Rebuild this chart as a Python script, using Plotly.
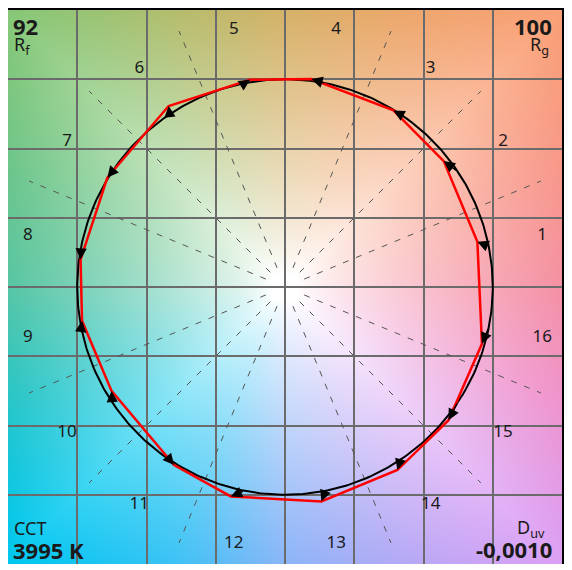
"""
TM-30 colour vector graphic (Rf / Rg) -- Plotly version.
"""

import base64
import struct
import zlib

import numpy as np
import plotly.graph_objects as go

# ── Data ─────────────────────────────────────────────────────────────────────
BINS = list(range(1, 17))
# test source vectors, normalised to the reference circle (radius 1)
TEST_X = [0.926, 0.764, 0.522, 0.127, -0.168, -0.560, -0.855, -0.984,
          -0.977, -0.835, -0.534, -0.261, 0.175, 0.541, 0.787, 0.948]
TEST_Y = [0.218, 0.606, 0.850, 1.001, 0.998, 0.871, 0.527, 0.132,
          -0.163, -0.500, -0.857, -1.008, -1.032, -0.881, -0.641, -0.273]
RF = "92"
RG = "100"
CCT = "3995 K"
DUV = "-0,0010"

# ── Design tokens ────────────────────────────────────────────────────────────
FONT = "Noto Sans, Open Sans, Arial, sans-serif"
TEXT = "#1a1a1a"
GRID = "#6b6b6b"
LIM = 4 / 3
SIZE = 556          # page body adds 8 px margin around the figure

# hue of the background along the frame, every 22.5 deg starting at +x
EDGE_RGB = [
    (245, 145, 165), (248, 152, 140), (250, 160, 118), (236, 168, 108),
    (214, 178, 105), (180, 190, 110), (135, 200, 120), (108, 198, 140),
    (88, 198, 165), (40, 198, 200), (0, 200, 240), (60, 195, 245),
    (140, 182, 248), (180, 170, 246), (220, 160, 245), (240, 148, 205),
]


def background_png(n=360):
    c = np.linspace(-LIM, LIM, n)
    u, v = np.meshgrid(c, c[::-1])
    th = np.degrees(np.arctan2(v, u)) % 360
    r = np.hypot(u, v)
    r_edge = LIM / np.maximum(np.abs(np.cos(np.radians(th))),
                              np.abs(np.sin(np.radians(th))))
    s = np.clip(r / r_edge, 0, 1)
    w = np.clip(s * 1.05 - 0.05, 0, 1) ** 0.8

    anchors = np.array(EDGE_RGB + [EDGE_RGB[0]], dtype=float)
    pos = th / 22.5
    i0 = np.floor(pos).astype(int)
    f = (pos - i0)[..., None]
    edge = anchors[i0] * (1 - f) + anchors[i0 + 1] * f
    rgb = 255 * (1 - w[..., None]) + edge * w[..., None]
    rgb = np.clip(rgb, 0, 255).astype(np.uint8)

    h, wd, _ = rgb.shape
    raw = b"".join(b"\x00" + rgb[k].tobytes() for k in range(h))

    def chunk(tag, data):
        body = tag + data
        return struct.pack(">I", len(data)) + body + struct.pack(">I", zlib.crc32(body) & 0xFFFFFFFF)

    png = (b"\x89PNG\r\n\x1a\n"
           + chunk(b"IHDR", struct.pack(">IIBBBBB", wd, h, 8, 2, 0, 0, 0))
           + chunk(b"IDAT", zlib.compress(raw, 9))
           + chunk(b"IEND", b""))
    return "data:image/png;base64," + base64.b64encode(png).decode()


fig = go.Figure()

# dashed hue-bin boundaries (the 0/90/180/270 ones sit on the grid)
for k in range(16):
    if k % 4 == 0:
        continue
    a = np.radians(k * 22.5)
    fig.add_trace(go.Scatter(
        x=[0.1 * np.cos(a), LIM * np.cos(a)], y=[0.1 * np.sin(a), LIM * np.sin(a)],
        mode="lines", line=dict(color="#555555", width=1, dash="6px,8px"),
        hoverinfo="skip", showlegend=False,
    ))

# reference circle
t = np.linspace(0, 2 * np.pi, 361)
fig.add_trace(go.Scatter(
    x=np.cos(t), y=np.sin(t), mode="lines",
    line=dict(color="black", width=2), hoverinfo="skip", showlegend=False,
))

# test polygon
fig.add_trace(go.Scatter(
    x=TEST_X + TEST_X[:1], y=TEST_Y + TEST_Y[:1], mode="lines",
    line=dict(color="#ff0000", width=2.5), showlegend=False,
))

# bin numbers
ang = np.radians((np.array(BINS) - 0.5) * 22.5)
fig.add_trace(go.Scatter(
    x=1.262 * np.cos(ang), y=1.262 * np.sin(ang), mode="text",
    text=[str(b) for b in BINS], textposition="middle center",
    textfont=dict(family=FONT, size=17, color=TEXT),
    hoverinfo="skip", showlegend=False,
))

# arrows reference -> test
for a, tx, ty in zip(ang, TEST_X, TEST_Y):
    fig.add_annotation(
        x=tx, y=ty, ax=np.cos(a), ay=np.sin(a),
        xref="x", yref="y", axref="x", ayref="y",
        text="", showarrow=True, arrowhead=2, arrowsize=1.5,
        arrowwidth=1.5, arrowcolor="black", standoff=0,
    )


def fx(p):
    return p / SIZE


def fy(p):
    return 1 - p / SIZE


# (text, x px, top px, anchor, size) in figure pixels
corner = [
    (f"<b>{RF}</b>", 3, -1, "left", 22),
    ("R<sub>f</sub>", 4, 20, "left", 18),
    (f"<b>{RG}</b>", 548, -1, "right", 22),
    ("R<sub>g</sub>", 545, 20, "right", 18),
    ("CCT", 4, 506, "left", 18),
    (f"<b>{CCT}</b>", 3, 525, "left", 22),
    ("D<sub>uv</sub>", 541, 505, "right", 18),
    (f"<b>{DUV}</b>", 548, 524, "right", 22),
]
for txt, x, y, anchor, size in corner:
    fig.add_annotation(
        x=fx(x), y=fy(y), xref="paper", yref="paper",
        xanchor=anchor, yanchor="top", text=txt, showarrow=False,
        font=dict(family=FONT, size=size, color=TEXT),
    )

ticks = [k / 3 for k in range(-4, 5)]
axis = dict(
    range=[-LIM, LIM], tickvals=ticks, showticklabels=False, ticks="",
    showgrid=True, gridcolor=GRID, gridwidth=1.5, zeroline=False,
    showline=True, linecolor="black", linewidth=1.5, mirror=True,
    fixedrange=True,
)

fig.update_layout(
    width=SIZE, height=SIZE,
    margin=dict(l=0, r=0, t=0, b=0),
    paper_bgcolor="white", plot_bgcolor="white",
    xaxis=axis, yaxis=dict(axis),
    images=[dict(
        source=background_png(), xref="x", yref="y",
        x=-LIM, y=LIM, sizex=2 * LIM, sizey=2 * LIM,
        sizing="stretch", layer="below",
    )],
    font=dict(family=FONT, color=TEXT),
)

fig.write_html("out.html")
